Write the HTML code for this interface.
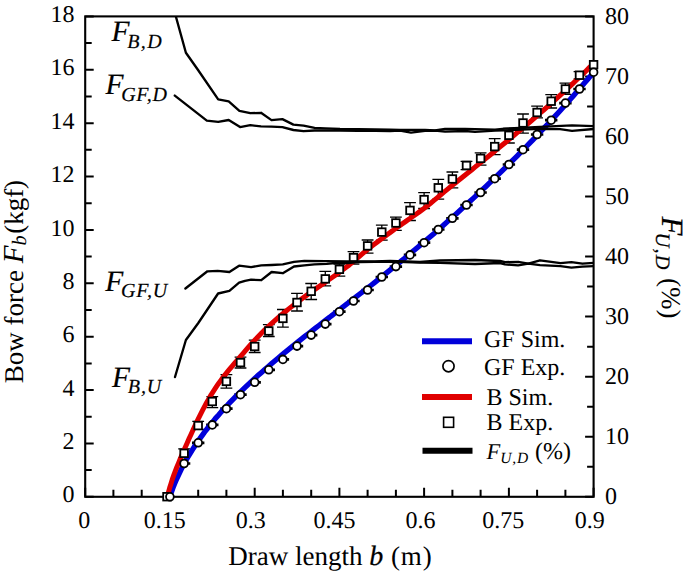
<!DOCTYPE html>
<html><head><meta charset="utf-8"><style>
html,body{margin:0;padding:0;background:#fff;}
svg{display:block;}
text{font-family:"Liberation Serif",serif;text-rendering:geometricPrecision;}
</style></head><body>
<svg width="685" height="574" viewBox="0 0 685 574">
<rect width="685" height="574" fill="#fff"/>
<defs><clipPath id="pa"><rect x="85.2" y="16.4" width="508.40000000000003" height="480.40000000000003"/></clipPath></defs>
<rect x="85.2" y="16.4" width="508.4" height="480.4" fill="none" stroke="#000" stroke-width="2.1"/>
<path d="M85.2 496.8v-9M113.4 496.8v-7M141.7 496.8v-7M169.9 496.8v-9M198.2 496.8v-7M226.4 496.8v-7M254.7 496.8v-9M282.9 496.8v-7M311.2 496.8v-7M339.4 496.8v-9M367.6 496.8v-7M395.9 496.8v-7M424.1 496.8v-9M452.4 496.8v-7M480.6 496.8v-7M508.9 496.8v-9M537.1 496.8v-7M565.4 496.8v-7M593.6 496.8v-9M85.2 496.8h8.5M85.2 470.1h6.5M85.2 443.4h8.5M85.2 416.7h6.5M85.2 390.0h8.5M85.2 363.4h6.5M85.2 336.7h8.5M85.2 310.0h6.5M85.2 283.3h8.5M85.2 256.6h6.5M85.2 229.9h8.5M85.2 203.2h6.5M85.2 176.5h8.5M85.2 149.8h6.5M85.2 123.2h8.5M85.2 96.5h6.5M85.2 69.8h8.5M85.2 43.1h6.5M85.2 16.4h8.5M593.6 496.8h-8.5M593.6 466.8h-6.5M593.6 436.8h-8.5M593.6 406.7h-6.5M593.6 376.7h-8.5M593.6 346.7h-6.5M593.6 316.6h-8.5M593.6 286.6h-6.5M593.6 256.6h-8.5M593.6 226.6h-6.5M593.6 196.6h-8.5M593.6 166.5h-6.5M593.6 136.5h-8.5M593.6 106.5h-6.5M593.6 76.4h-8.5M593.6 46.4h-6.5M593.6 16.4h-8.5" stroke="#000" stroke-width="2" fill="none"/>
<path d="M177.9 462.9h12.4M177.9 464.1h12.4M192.0 442.2h12.4M192.0 443.4h12.4M206.1 424.3h12.4M206.1 425.5h12.4M220.2 408.1h12.4M220.2 409.3h12.4M234.3 394.1h12.4M234.3 395.3h12.4M248.5 381.7h12.4M248.5 382.9h12.4M262.6 369.2h12.4M262.6 370.4h12.4M276.7 358.8h12.4M276.7 360.0h12.4M290.8 345.5h12.4M290.8 346.7h12.4M305.0 334.5h12.4M305.0 335.7h12.4M319.1 323.5h12.4M319.1 324.7h12.4M333.2 311.1h12.4M333.2 312.3h12.4M347.3 300.4h12.4M347.3 301.6h12.4M361.4 289.4h12.4M361.4 290.6h12.4M375.6 276.4h12.4M375.6 277.6h12.4M389.7 266.0h12.4M389.7 267.2h12.4M403.8 254.3h12.4M403.8 255.5h12.4M417.9 242.1h12.4M417.9 243.3h12.4M432.1 228.9h12.4M432.1 230.1h12.4M446.2 217.7h12.4M446.2 218.9h12.4M460.3 204.4h12.4M460.3 205.6h12.4M474.4 191.9h12.4M474.4 193.1h12.4M488.5 178.1h12.4M488.5 179.3h12.4M502.7 163.9h12.4M502.7 165.1h12.4M516.8 149.1h12.4M516.8 150.3h12.4M530.9 133.9h12.4M530.9 135.1h12.4M545.0 119.6h12.4M545.0 120.8h12.4M559.2 102.5h12.4M559.2 103.7h12.4M573.3 88.4h12.4M573.3 89.6h12.4" stroke="#000" stroke-width="1.5" fill="none"/>
<path d="M184.1 448.9V457.7M178.2 448.9h11.8M178.2 457.7h11.8M198.2 421.4V429.4M192.3 421.4h11.8M192.3 429.4h11.8M212.3 396.7V407.6M206.4 396.7h11.8M206.4 407.6h11.8M226.4 374.7V388.1M220.5 374.7h11.8M220.5 388.1h11.8M240.5 357.1V368.0M234.6 357.1h11.8M234.6 368.0h11.8M254.7 340.2V352.5M248.8 340.2h11.8M248.8 352.5h11.8M268.8 324.7V336.5M262.9 324.7h11.8M262.9 336.5h11.8M282.9 309.5V327.2M277.0 309.5h11.8M277.0 327.2h11.8M297.0 293.4V311.0M291.1 293.4h11.8M291.1 311.0h11.8M311.2 283.5V299.5M305.3 283.5h11.8M305.3 299.5h11.8M325.3 271.4V285.8M319.4 271.4h11.8M319.4 285.8h11.8M339.4 264.1V276.1M333.5 264.1h11.8M333.5 276.1h11.8M353.5 251.7V264.1M347.6 251.7h11.8M347.6 264.1h11.8M367.6 240.0V253.1M361.7 240.0h11.8M361.7 253.1h11.8M381.8 225.1V240.2M375.9 225.1h11.8M375.9 240.2h11.8M395.9 217.2V230.4M390.0 217.2h11.8M390.0 230.4h11.8M410.0 202.6V220.5M404.1 202.6h11.8M404.1 220.5h11.8M424.1 192.6V208.5M418.2 192.6h11.8M418.2 208.5h11.8M438.3 179.4V199.2M432.4 179.4h11.8M432.4 199.2h11.8M452.4 172.0V187.9M446.5 172.0h11.8M446.5 187.9h11.8M466.5 161.3V169.7M460.6 161.3h11.8M460.6 169.7h11.8M480.6 152.8V165.1M474.7 152.8h11.8M474.7 165.1h11.8M494.7 138.7V154.6M488.8 138.7h11.8M488.8 154.6h11.8M508.9 128.3V143.0M503.0 128.3h11.8M503.0 143.0h11.8M523.0 114.0V133.2M517.1 114.0h11.8M517.1 133.2h11.8M537.1 106.2V117.9M531.2 106.2h11.8M531.2 117.9h11.8M551.2 94.6V108.0M545.3 94.6h11.8M545.3 108.0h11.8M565.4 83.1V94.4M559.5 83.1h11.8M559.5 94.4h11.8M579.5 71.6V78.8M573.6 71.6h11.8M573.6 78.8h11.8" stroke="#000" stroke-width="1.3" fill="none"/>
<polyline clip-path="url(#pa)" points="169.8,496.8 171.3,492.6 172.8,488.4 174.4,484.3 176.1,480.3 177.9,476.3 179.8,472.3 181.7,468.4 183.7,464.5 185.8,460.7 188.0,457.0 190.2,453.3 192.5,449.6 194.8,446.0 197.2,442.4 199.7,438.9 202.2,435.4 204.7,431.9 207.4,428.5 210.0,425.1 212.8,421.8 215.5,418.4 218.4,415.2 221.2,411.9 224.1,408.7 227.1,405.5 230.0,402.4 233.0,399.3 236.1,396.2 239.2,393.1 242.3,390.1 245.4,387.1 248.6,384.1 251.8,381.1 255.0,378.2 258.2,375.3 261.5,372.4 264.8,369.5 268.1,366.7 271.4,363.8 274.7,361.0 278.0,358.2 281.4,355.4 284.7,352.6 288.1,349.9 291.5,347.1 294.9,344.4 298.3,341.6 301.7,338.9 305.1,336.2 308.6,333.5 312.0,330.8 315.4,328.2 318.9,325.5 322.3,322.8 325.8,320.1 329.3,317.5 332.7,314.8 336.2,312.2 339.7,309.5 343.1,306.8 346.6,304.2 350.1,301.5 353.5,298.9 357.0,296.2 360.4,293.5 363.9,290.8 367.3,288.2 370.8,285.5 374.2,282.8 377.6,280.1 381.0,277.4 384.4,274.7 387.8,271.9 391.2,269.2 394.6,266.5 398.0,263.7 401.4,260.9 404.7,258.2 408.1,255.4 411.4,252.6 414.8,249.8 418.1,247.0 421.4,244.2 424.8,241.4 428.1,238.6 431.4,235.7 434.7,232.9 437.9,230.0 441.2,227.2 444.5,224.3 447.7,221.4 451.0,218.5 454.2,215.7 457.5,212.7 460.7,209.8 463.9,206.9 467.1,204.0 470.3,201.0 473.5,198.1 476.7,195.1 479.9,192.2 483.0,189.2 486.2,186.2 489.3,183.2 492.5,180.2 495.6,177.2 498.7,174.2 501.8,171.1 504.9,168.1 508.0,165.0 511.1,162.0 514.2,158.9 517.3,155.8 520.3,152.7 523.4,149.6 526.4,146.5 529.4,143.4 532.4,140.3 535.5,137.1 538.5,134.0 541.4,130.8 544.4,127.6 547.4,124.5 550.4,121.3 553.3,118.1 556.3,114.9 559.2,111.7 562.1,108.4 565.0,105.2 567.9,101.9 570.8,98.7 573.7,95.4 576.6,92.1 579.4,88.8 582.3,85.5 585.1,82.2 588.0,78.9 590.8,75.6 593.6,72.2" fill="none" stroke="#0000da" stroke-width="5.3" stroke-linejoin="round"/>
<polyline clip-path="url(#pa)" points="167.4,496.8 168.4,492.4 169.6,488.1 170.9,483.9 172.2,479.6 173.7,475.4 175.2,471.3 176.8,467.2 178.5,463.1 180.2,459.0 181.9,454.9 183.7,450.8 185.5,446.8 187.3,442.7 189.1,438.6 191.0,434.5 192.8,430.5 194.7,426.4 196.6,422.4 198.5,418.3 200.5,414.3 202.5,410.4 204.6,406.4 206.7,402.5 208.9,398.7 211.1,394.8 213.5,391.1 215.9,387.4 218.4,383.7 221.0,380.1 223.6,376.6 226.4,373.1 229.2,369.7 232.0,366.3 234.9,362.9 237.8,359.5 240.7,356.2 243.6,352.8 246.5,349.4 249.5,346.0 252.4,342.7 255.4,339.4 258.5,336.2 261.6,333.0 264.8,329.9 268.0,326.9 271.2,323.8 274.5,320.9 277.9,317.9 281.2,315.0 284.7,312.2 288.1,309.4 291.6,306.6 295.1,303.9 298.6,301.2 302.2,298.5 305.8,295.9 309.4,293.3 313.0,290.7 316.7,288.1 320.4,285.6 324.0,283.1 327.7,280.5 331.4,278.0 335.0,275.5 338.6,272.9 342.2,270.3 345.8,267.6 349.3,264.9 352.7,262.0 356.1,259.2 359.4,256.3 362.8,253.4 366.2,250.6 369.7,247.8 373.2,245.1 376.7,242.5 380.3,239.8 383.8,237.2 387.4,234.5 391.0,231.9 394.6,229.3 398.2,226.7 401.8,224.1 405.5,221.6 409.1,219.0 412.8,216.5 416.4,214.0 420.0,211.4 423.6,208.7 427.1,206.0 430.6,203.2 434.0,200.4 437.4,197.6 440.8,194.8 444.2,191.9 447.7,189.1 451.1,186.3 454.6,183.6 458.0,180.8 461.5,178.0 464.9,175.2 468.4,172.5 471.9,169.7 475.3,166.9 478.8,164.1 482.2,161.3 485.7,158.6 489.2,155.8 492.6,153.0 496.0,150.1 499.5,147.3 502.9,144.5 506.4,141.7 509.8,138.8 513.2,136.0 516.6,133.1 520.0,130.3 523.4,127.4 526.8,124.5 530.2,121.7 533.6,118.8 537.0,115.8 540.3,112.9 543.7,110.0 547.0,107.1 550.3,104.1 553.7,101.1 557.0,98.2 560.3,95.2 563.5,92.2 566.8,89.2 570.1,86.1 573.3,83.1 576.5,80.0 579.8,76.9 583.0,73.9 586.2,70.7 589.3,67.6 592.5,64.5" fill="none" stroke="#e00000" stroke-width="5.0" stroke-linejoin="round"/>
<g stroke="#000" fill="#fff" stroke-width="1.8">
<rect x="163.2" y="492.9" width="7.6" height="7.6"/>
<rect x="180.3" y="449.5" width="7.6" height="7.6"/>
<rect x="194.4" y="421.8" width="7.6" height="7.6"/>
<rect x="208.5" y="397.7" width="7.6" height="7.6"/>
<rect x="222.6" y="377.6" width="7.6" height="7.6"/>
<rect x="236.7" y="358.8" width="7.6" height="7.6"/>
<rect x="250.9" y="342.7" width="7.6" height="7.6"/>
<rect x="265.0" y="327.2" width="7.6" height="7.6"/>
<rect x="279.1" y="314.6" width="7.6" height="7.6"/>
<rect x="293.2" y="298.7" width="7.6" height="7.6"/>
<rect x="307.4" y="287.5" width="7.6" height="7.6"/>
<rect x="321.5" y="275.1" width="7.6" height="7.6"/>
<rect x="335.6" y="265.5" width="7.6" height="7.6"/>
<rect x="349.7" y="253.8" width="7.6" height="7.6"/>
<rect x="363.8" y="242.1" width="7.6" height="7.6"/>
<rect x="378.0" y="228.3" width="7.6" height="7.6"/>
<rect x="392.1" y="219.2" width="7.6" height="7.6"/>
<rect x="406.2" y="206.6" width="7.6" height="7.6"/>
<rect x="420.3" y="195.8" width="7.6" height="7.6"/>
<rect x="434.5" y="184.0" width="7.6" height="7.6"/>
<rect x="448.6" y="175.2" width="7.6" height="7.6"/>
<rect x="462.7" y="161.7" width="7.6" height="7.6"/>
<rect x="476.8" y="154.6" width="7.6" height="7.6"/>
<rect x="490.9" y="142.8" width="7.6" height="7.6"/>
<rect x="505.1" y="131.5" width="7.6" height="7.6"/>
<rect x="519.2" y="119.2" width="7.6" height="7.6"/>
<rect x="533.3" y="108.7" width="7.6" height="7.6"/>
<rect x="547.4" y="97.4" width="7.6" height="7.6"/>
<rect x="561.6" y="85.2" width="7.6" height="7.6"/>
<rect x="575.7" y="71.4" width="7.6" height="7.6"/>
<rect x="589.8" y="60.9" width="7.6" height="7.6"/>
<circle cx="169.9" cy="496.8" r="3.9"/>
<circle cx="184.1" cy="463.5" r="3.9"/>
<circle cx="198.2" cy="442.8" r="3.9"/>
<circle cx="212.3" cy="424.9" r="3.9"/>
<circle cx="226.4" cy="408.7" r="3.9"/>
<circle cx="240.5" cy="394.7" r="3.9"/>
<circle cx="254.7" cy="382.3" r="3.9"/>
<circle cx="268.8" cy="369.8" r="3.9"/>
<circle cx="282.9" cy="359.4" r="3.9"/>
<circle cx="297.0" cy="346.1" r="3.9"/>
<circle cx="311.2" cy="335.1" r="3.9"/>
<circle cx="325.3" cy="324.1" r="3.9"/>
<circle cx="339.4" cy="311.7" r="3.9"/>
<circle cx="353.5" cy="301.0" r="3.9"/>
<circle cx="367.6" cy="290.0" r="3.9"/>
<circle cx="381.8" cy="277.0" r="3.9"/>
<circle cx="395.9" cy="266.6" r="3.9"/>
<circle cx="410.0" cy="254.9" r="3.9"/>
<circle cx="424.1" cy="242.7" r="3.9"/>
<circle cx="438.3" cy="229.5" r="3.9"/>
<circle cx="452.4" cy="218.3" r="3.9"/>
<circle cx="466.5" cy="205.0" r="3.9"/>
<circle cx="480.6" cy="192.5" r="3.9"/>
<circle cx="494.7" cy="178.7" r="3.9"/>
<circle cx="508.9" cy="164.5" r="3.9"/>
<circle cx="523.0" cy="149.7" r="3.9"/>
<circle cx="537.1" cy="134.5" r="3.9"/>
<circle cx="551.2" cy="120.2" r="3.9"/>
<circle cx="565.4" cy="103.1" r="3.9"/>
<circle cx="579.5" cy="89.0" r="3.9"/>
<circle cx="593.6" cy="72.2" r="3.9"/>
</g>
<g clip-path="url(#pa)" fill="none" stroke="#000" stroke-width="2.35" stroke-linejoin="round" stroke-linecap="round">
<polyline points="174.9,13.0 185.9,52.8 198.4,70.5 218.2,99.4 228.7,101.4 239.4,110.8 250.3,113.2 261.0,112.8 271.5,120.1 282.4,119.1 293.4,124.6 303.6,125.7 314.6,127.8 325.5,128.3 340.0,129.0 358.0,129.2 375.0,129.3 390.0,129.6 400.0,129.8 411.0,129.9 425.0,130.0 435.0,130.3 445.0,129.0 465.0,128.8 475.0,129.2 495.0,129.6 505.0,128.6 520.0,128.0 540.0,126.9 572.0,125.4 593.6,126.1"/>
<polyline points="174.8,95.6 206.8,120.7 218.2,121.9 228.7,120.0 240.1,127.1 250.3,125.2 261.0,126.4 271.5,126.7 282.4,127.1 293.4,130.0 303.6,131.2 314.6,130.5 325.5,130.5 340.0,130.6 358.0,130.9 375.0,130.9 390.0,131.0 400.0,130.6 411.0,132.6 425.0,130.8 435.0,130.7 445.0,131.6 465.0,131.0 475.0,131.8 495.0,130.6 505.0,130.3 515.0,129.9 540.0,128.9 560.0,129.1 572.0,130.8 593.6,129.0"/>
<polyline points="185.4,288.5 207.4,271.3 217.6,270.9 229.4,272.0 239.1,265.7 251.1,267.1 261.3,265.4 271.6,265.0 282.8,264.4 294.0,261.8 304.3,260.9 347.0,261.3 375.0,261.5 390.0,261.0 420.0,262.0 440.0,260.5 475.0,260.0 500.0,261.0 505.0,262.2 518.1,261.8 528.4,263.7 540.0,260.3 560.5,263.2 571.4,262.2 582.4,263.7 593.6,262.8"/>
<polyline points="175.0,377.0 185.9,340.0 198.3,323.0 218.1,293.5 229.4,290.8 239.1,282.7 245.0,280.8 251.1,279.7 261.3,280.2 271.6,272.0 282.8,273.2 294.0,266.5 304.3,265.4 314.5,264.4 326.7,263.8 335.0,263.0 347.2,263.0 359.5,262.0 375.0,261.8 390.0,261.5 420.0,262.5 440.0,262.8 475.0,264.0 500.0,263.0 505.0,264.3 518.1,265.4 528.4,263.7 540.0,265.1 560.5,266.2 571.4,267.6 582.4,266.6 593.6,266.2"/>
</g>
<g font-size="24" fill="#000"><text x="74.5" y="502.4" text-anchor="end">0</text><text x="74.5" y="449.0" text-anchor="end">2</text><text x="74.5" y="395.6" text-anchor="end">4</text><text x="74.5" y="342.3" text-anchor="end">6</text><text x="74.5" y="288.9" text-anchor="end">8</text><text x="74.5" y="235.5" text-anchor="end">10</text><text x="74.5" y="182.1" text-anchor="end">12</text><text x="74.5" y="128.8" text-anchor="end">14</text><text x="74.5" y="75.4" text-anchor="end">16</text><text x="74.5" y="22.0" text-anchor="end">18</text><text x="605" y="504.0">0</text><text x="605" y="443.9">10</text><text x="605" y="383.9">20</text><text x="605" y="323.8">30</text><text x="605" y="263.8">40</text><text x="605" y="203.8">50</text><text x="605" y="143.7">60</text><text x="605" y="83.6">70</text><text x="605" y="23.6">80</text><text x="84.2" y="528" text-anchor="middle">0</text><text x="164.7" y="528" text-anchor="middle">0.15</text><text x="250.8" y="528" text-anchor="middle">0.3</text><text x="334.5" y="528" text-anchor="middle">0.45</text><text x="420.6" y="528" text-anchor="middle">0.6</text><text x="503.3" y="528" text-anchor="middle">0.75</text><text x="589.7" y="528" text-anchor="middle">0.9</text></g>
<text x="228.3" y="565.3" font-size="27">Draw length <tspan font-style="italic" font-size="28" stroke="#000" stroke-width="0.25">b</tspan><tspan letter-spacing="0.9"> (m)</tspan></text>
<text transform="translate(22.8 383.3) rotate(-90)" font-size="27">Bow force <tspan font-style="italic" font-size="29">F</tspan><tspan font-style="italic" font-size="20.5" dy="3.6">b</tspan><tspan dy="-3.6" dx="1.5">(kgf)</tspan></text>
<text transform="translate(662 216.5) rotate(90)" font-size="27"><tspan font-style="italic" font-size="31" stroke="#000" stroke-width="0.2">F</tspan><tspan font-style="italic" font-size="20.5" dx="-3" dy="6.5" letter-spacing="1.2" stroke="#000" stroke-width="0.2">U,D</tspan><tspan dy="-6.5" dx="0.5"> (%)</tspan></text>
<text x="111.5" y="41.3" font-style="italic" font-size="29.5" stroke="#000" stroke-width="0.2">F<tspan font-size="20" dx="-2.2" dy="6.2" letter-spacing="1.3">B,D</tspan></text>
<text x="105.4" y="94.4" font-style="italic" font-size="29.5" stroke="#000" stroke-width="0.2">F<tspan font-size="20" dx="-2.2" dy="6.2" letter-spacing="0.7">GF,D</tspan></text>
<text x="105.2" y="290.5" font-style="italic" font-size="29.5" stroke="#000" stroke-width="0.2">F<tspan font-size="20" dx="-2.2" dy="6.2" letter-spacing="0.9">GF,U</tspan></text>
<text x="112" y="386.8" font-style="italic" font-size="29.5" stroke="#000" stroke-width="0.2">F<tspan font-size="20" dx="-2.2" dy="6.2" letter-spacing="0.9">B,U</tspan></text>
<g font-size="24">
<path d="M422 341.2h50" stroke="#0000da" stroke-width="6"/>
<path d="M422 397h50" stroke="#e00000" stroke-width="6"/>
<path d="M422.5 450.8h50" stroke="#000" stroke-width="6"/>
<circle cx="448.5" cy="366.2" r="5.6" fill="#fff" stroke="#000" stroke-width="1.7"/>
<rect x="443.6" y="417.3" width="10" height="10" fill="#fff" stroke="#000" stroke-width="1.6"/>
<text x="484" y="347.2">GF Sim.</text>
<text x="484" y="374.6">GF Exp.</text>
<text x="486.5" y="405">B Sim.</text>
<text x="486.5" y="430.2">B Exp.</text>
<text x="486.6" y="458.6"><tspan font-style="italic" font-size="22.5">F</tspan><tspan font-style="italic" font-size="15.5" dy="4.1" letter-spacing="0.8">U,D</tspan><tspan dy="-4.1"> (%)</tspan></text>
</g>
</svg>
</body></html>
